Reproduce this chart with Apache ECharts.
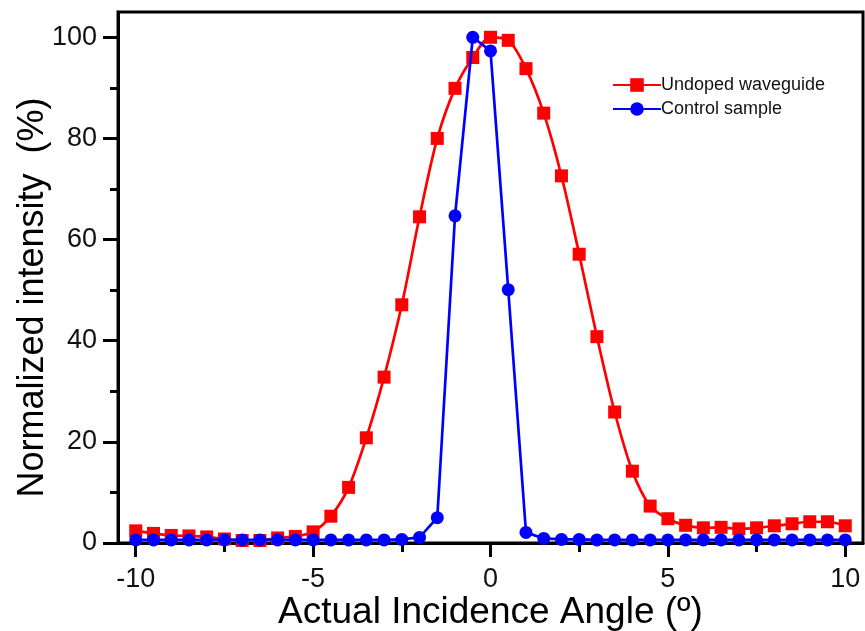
<!DOCTYPE html>
<html>
<head>
<meta charset="utf-8">
<script src="https://cdn.jsdelivr.net/npm/echarts@6/dist/echarts.min.js"></script>
<style>
  html, body { margin: 0; padding: 0; background: #fff; }
  #chart { width: 865px; height: 631px; }
</style>
</head>
<body>
<div id="chart"></div>
<script>
// Incidence angles (degrees), shared by both series
const angles = [
  -10, -9.5, -9, -8.5, -8, -7.5, -7, -6.5, -6, -5.5, -5, -4.5, -4, -3.5, -3, -2.5, -2, -1.5, -1, -0.5,
  0, 0.5, 1, 1.5, 2, 2.5, 3, 3.5, 4, 4.5, 5, 5.5, 6, 6.5, 7, 7.5, 8, 8.5, 9, 9.5, 10
];

// Normalized intensity (%)
const undopedWaveguide = [
  2.4, 1.9, 1.5, 1.4, 1.2, 0.8, 0.5, 0.5, 1.0, 1.3, 2.2, 5.3, 11.0, 20.8, 32.8, 47.1, 64.5, 80.0, 89.9, 96.0,
  100, 99.4, 93.8, 85.0, 72.6, 57.1, 40.8, 25.9, 14.2, 7.3, 4.8, 3.5, 3.0, 3.1, 2.8, 3.0, 3.4, 3.8, 4.2, 4.2, 3.4
];
const controlSample = [
  0.6, 0.6, 0.6, 0.6, 0.6, 0.6, 0.6, 0.6, 0.6, 0.6, 0.6, 0.6, 0.6, 0.6, 0.6, 0.7, 1.1, 5.0, 64.7, 100,
  97.3, 50.1, 2.1, 0.9, 0.7, 0.7, 0.6, 0.6, 0.6, 0.6, 0.6, 0.6, 0.6, 0.6, 0.6, 0.6, 0.6, 0.6, 0.6, 0.6, 0.6
];

// Tick positions
const xMajorTicks = [-10, -5, 0, 5, 10];
const xMinorTicks = [-7.5, -2.5, 2.5, 7.5];
const yMajorTicks = [0, 20, 40, 60, 80, 100];
const yMinorTicks = [10, 30, 50, 70, 90];

const FONT = 'Liberation Sans, Arial, sans-serif';
const pair = (xs, ys) => xs.map((x, i) => [x, ys[i]]);

const chart = echarts.init(document.getElementById('chart'), null, { renderer: 'canvas' });

const xRange = { min: -10.5, max: 10.5 };
const yRange = { min: 0, max: 105 };
const plotBox = { left: 118, right: 2, top: 12, bottom: 88, outerBoundsMode: 'none', containLabel: false };
const tickLine = { color: '#000', width: 3 };

chart.setOption({
  animation: false,
  backgroundColor: '#fff',
  grid: [
    // main plotting area with a closed frame
    { ...plotBox, show: true, borderColor: '#000', borderWidth: 3, backgroundColor: 'transparent' },
    // same box, carrying only the minor ticks
    { ...plotBox, show: false }
  ],
  legend: {
    left: 607, top: 71, orient: 'vertical',
    itemWidth: 48, itemHeight: 17, itemGap: 6,
    textStyle: { fontFamily: FONT, fontSize: 18, color: '#111', padding: [0, 0, 0, -5] },
    data: ['Undoped waveguide', 'Control sample']
  },
  xAxis: [
    {
      type: 'value', ...xRange, position: 'bottom', gridIndex: 0,
      name: 'Actual Incidence Angle (º)', nameLocation: 'middle', nameGap: 51, nameMoveOverlap: false,
      nameTextStyle: { fontFamily: FONT, fontSize: 37, color: '#000' },
      axisLine: { show: true, onZero: false, lineStyle: { color: '#000', width: 3 } },
      axisTick: { show: true, customValues: xMajorTicks, inside: false, length: 14, lineStyle: tickLine },
      axisLabel: { show: true, customValues: xMajorTicks, margin: 23, fontFamily: FONT, fontSize: 27, color: '#111' },
      splitLine: { show: false }
    },
    {
      type: 'value', ...xRange, position: 'bottom', gridIndex: 1,
      axisLine: { show: false, onZero: false },
      axisTick: { show: true, customValues: xMinorTicks, inside: false, length: 9, lineStyle: tickLine },
      axisLabel: { show: false },
      splitLine: { show: false }
    }
  ],
  yAxis: [
    {
      type: 'value', ...yRange, position: 'left', gridIndex: 0,
      name: 'Normalized intensity  (%)', nameLocation: 'middle', nameGap: 67, nameMoveOverlap: false,
      nameTextStyle: { fontFamily: FONT, fontSize: 36, color: '#000', padding: [0, 40, 0, 0] },
      axisLine: { show: true, onZero: false, lineStyle: { color: '#000', width: 3 } },
      axisTick: { show: true, customValues: yMajorTicks, inside: false, length: 15, lineStyle: tickLine },
      axisLabel: { show: true, customValues: yMajorTicks, margin: 21, fontFamily: FONT, fontSize: 27, color: '#111' },
      splitLine: { show: false }
    },
    {
      type: 'value', ...yRange, position: 'left', gridIndex: 1,
      axisLine: { show: false, onZero: false },
      axisTick: { show: true, customValues: yMinorTicks, inside: false, length: 8, lineStyle: tickLine },
      axisLabel: { show: false },
      splitLine: { show: false }
    }
  ],
  series: [
    {
      name: 'Undoped waveguide', type: 'line',
      xAxisIndex: 0, yAxisIndex: 0,
      data: pair(angles, undopedWaveguide),
      smooth: 0.3,
      symbol: 'rect', symbolSize: 13,
      itemStyle: { color: '#ff0000' },
      lineStyle: { color: '#ff0000', width: 2.7 },
      z: 2
    },
    {
      name: 'Control sample', type: 'line',
      xAxisIndex: 0, yAxisIndex: 0,
      data: pair(angles, controlSample),
      symbol: 'circle', symbolSize: 13,
      itemStyle: { color: '#0000ff' },
      lineStyle: { color: '#0000ff', width: 2.7 },
      z: 3
    }
  ]
});
</script>
</body>
</html>
